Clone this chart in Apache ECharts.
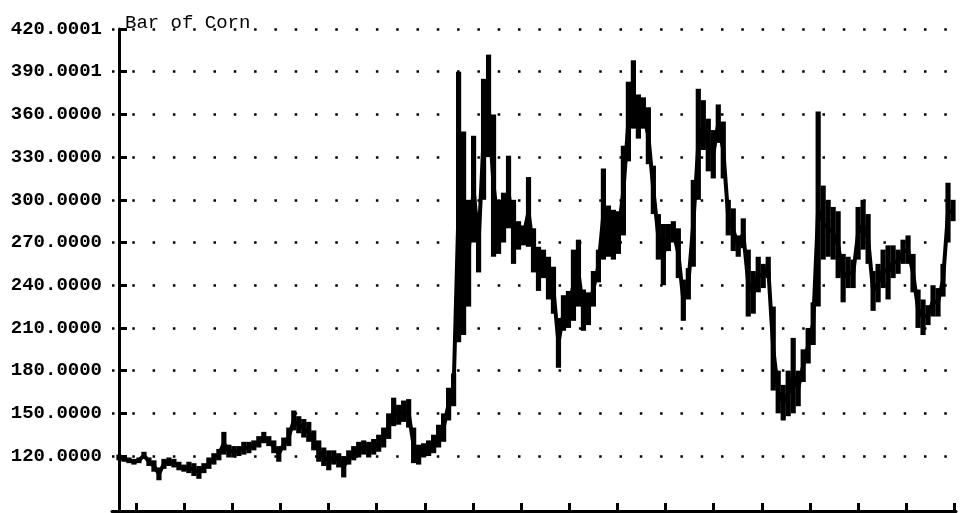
<!DOCTYPE html>
<html>
<head>
<meta charset="utf-8">
<script src="https://cdn.jsdelivr.net/npm/echarts@6/dist/echarts.min.js"></script>
<style>
html,body{margin:0;padding:0;background:#fff;}
#chart{width:963px;height:513px;}
</style>
</head>
<body>
<div id="chart"></div>
<script>
// Chart title
const chartTitle = 'Bar of Corn';
// Y tick values and their printed labels
const yTickValues = [120, 150, 180, 210, 240, 270, 300, 330, 360, 390, 420];
const yTickLabels = ['120.0000','150.0000','180.0000','210.0000','240.0000','270.0000','300.0000','330.0000','360.0000','390.0001','420.0001'];
// Bar lows and highs, one pair per sampling period
const lows = [
  117,116,115,114,115,118,113,109,103,111,113,112,110,109,108,106,104,108,111,114,
  117,121,119,119,120,121,122,124,126,129,127,122,116,124,127,138,136,133,130,124,
  116,113,110,114,112,105,114,117,119,121,119,121,123,126,132,141,142,144,140,115,
  114,119,120,122,126,130,145,155,200,205,225,270,249,300,330,260,262,270,280,255,
  265,268,267,249,236,245,230,220,182,208,210,215,225,208,212,225,242,258,260,258,
  262,275,327,350,343,350,325,290,258,240,264,270,245,215,230,253,300,335,320,315,
  340,315,275,264,260,266,218,220,235,238,245,166,150,145,148,150,155,172,185,198,
  225,258,260,258,245,228,238,238,258,265,255,222,228,238,230,245,248,255,255,235,
  210,205,212,218,218,232,270,285
];
const highs = [
  121,120,119,118,119,123,119,117,112,118,119,118,116,114,116,115,113,115,119,122,
  125,137,128,127,127,130,130,131,134,137,134,131,127,133,140,152,148,146,144,138,
  131,126,124,124,122,120,124,127,130,131,130,132,135,140,150,161,156,159,160,140,
  128,129,131,135,142,150,168,178,390,348,300,345,291,385,402,360,300,305,331,300,
  285,282,316,280,267,265,260,253,217,233,236,265,272,237,235,250,265,322,296,293,
  292,338,383,398,374,372,365,324,290,283,283,285,280,244,252,314,378,370,357,349,
  367,355,300,294,275,287,265,250,260,255,260,225,180,170,180,203,180,195,210,228,
  362,310,300,295,292,262,260,258,295,300,290,250,255,265,268,268,265,272,275,262,
  237,230,226,240,238,255,312,300
];
// Year tick marks along the time axis (in sample periods)
const xTickValues = [3.4,13.04,22.68,32.32,41.96,51.6,61.24,70.88,80.52,90.16,99.8,109.44,119.08,128.72,138.36,148,157.64,167.28];

const barData = lows.map((lo, i) => [i, lo, highs[i]]);
const midData = lows.map((lo, i) => [i, (lo + highs[i]) / 2]);

const chart = echarts.init(document.getElementById('chart'), null, {renderer: 'canvas'});
const font = 'Liberation Mono, Courier New, monospace';
chart.setOption({
  animation: false,
  backgroundColor: '#ffffff',
  title: {
    text: chartTitle,
    left: 120, top: 8,
    textStyle: {fontFamily: font, fontSize: 19, fontWeight: 'normal', color: '#000'}
  },
  grid: {left: 112, right: 7, top: 29, bottom: 2, containLabel: false},
  xAxis: {
    type: 'value', min: -1.4, max: 167.6,
    axisLine: {show: true, onZero: false, lineStyle: {color: '#000', width: 3}},
    axisTick: {show: true, inside: true, length: 8, customValues: xTickValues, lineStyle: {color: '#000', width: 3}},
    axisLabel: {show: false},
    splitLine: {show: false}
  },
  yAxis: {
    type: 'value', min: 81.4, max: 420.0001,
    axisLine: {show: true, lineStyle: {color: '#000', width: 3}},
    axisTick: {show: true, inside: true, length: 8, customValues: yTickValues, lineStyle: {color: '#000', width: 3}},
    axisLabel: {
      show: true, customValues: yTickValues, margin: 10,
      fontFamily: font, fontSize: 19, fontWeight: 'bold', color: '#000',
      formatter: v => { const k = yTickValues.findIndex(t => Math.abs(t - v) < 0.01); return k >= 0 ? yTickLabels[k] : ''; }
    },
    splitLine: {show: true, lineStyle: {color: '#000', width: 2.5, type: [2.5, 17.8]}}
  },
  series: [
    {
      type: 'line', data: midData, showSymbol: false, symbol: 'none',
      lineStyle: {color: '#000', width: 4}, z: 3
    },
    {
      type: 'custom', data: barData, encode: {x: 0, y: [1, 2]}, z: 4,
      renderItem: function (params, api) {
        const x = api.value(0), lo = api.value(1), hi = api.value(2);
        const p1 = api.coord([x, hi]);
        const p2 = api.coord([x, lo]);
        return {
          type: 'rect',
          shape: {x: p1[0] - 2.6, y: p1[1], width: 5.2, height: Math.max(p2[1] - p1[1], 3)},
          style: {fill: '#000'}
        };
      }
    }
  ]
});
</script>
</body>
</html>
